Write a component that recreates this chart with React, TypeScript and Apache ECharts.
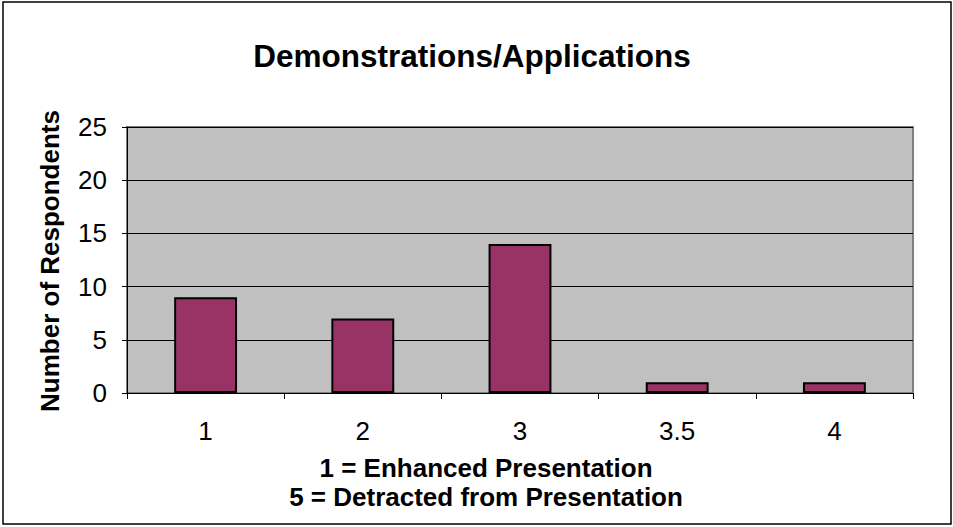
import React, { useEffect, useRef } from "react";
import * as echarts from "echarts";

const categories = ["1", "2", "3", "3.5", "4"];
const respondents = [9, 7, 14, 1, 1];
const yTicks = [0, 5, 10, 15, 20, 25];
const titleText = "Demonstrations/Applications";
const yAxisTitle = "Number of Respondents";
const xAxisTitleLines = ["1 = Enhanced Presentation", "5 = Detracted from Presentation"];

export default function App() {
  const ref = useRef<HTMLDivElement>(null);
  useEffect(() => {
    if (!ref.current) return;
    const chart = echarts.init(ref.current, undefined, { renderer: "svg" });
    const font = "'Liberation Sans', Arial, sans-serif";
    chart.setOption({
      animation: false,
      backgroundColor: "#ffffff",
      textStyle: { fontFamily: font },
      title: {
        text: titleText,
        left: 467,
        top: 35,
        textAlign: "center",
        textStyle: { fontFamily: font, fontSize: 31.5, fontWeight: "bold", color: "#000" },
      },
      grid: { left: 127, top: 127, width: 786, height: 266, show: true, backgroundColor: "#c0c0c0", borderColor: "#808080", borderWidth: 2 },
      xAxis: {
        type: "category",
        data: categories,
        axisLine: { show: true, lineStyle: { color: "#000", width: 1 } },
        axisTick: { show: true, length: 6, alignWithLabel: false, lineStyle: { color: "#000" } },
        axisLabel: { color: "#000", fontSize: 26, margin: 25, fontFamily: font },
        splitLine: { show: false },
      },
      yAxis: {
        type: "value",
        min: 0,
        max: yTicks[yTicks.length - 1],
        interval: 5,
        axisLine: { show: true, lineStyle: { color: "#000", width: 1 } },
        axisTick: { show: true, length: 5, lineStyle: { color: "#000" } },
        axisLabel: { color: "#000", fontSize: 26, margin: 20, fontFamily: font },
        splitLine: { show: true, lineStyle: { color: "#000", width: 1 } },
      },
      series: [
        {
          type: "bar",
          data: respondents,
          barWidth: "40%",
          itemStyle: { color: "#993366", borderColor: "#000", borderWidth: 2 },
        },
      ],
      graphic: [
        {
          type: "rect",
          shape: { x: 3, y: 2, width: 948, height: 522 },
          style: { fill: "none", stroke: "#000", lineWidth: 1.5 },
          silent: true,
          z: 100,
        },
        {
          type: "text",
          x: 50,
          y: 261,
          rotation: Math.PI / 2,
          style: {
            text: yAxisTitle,
            fontFamily: font,
            fontSize: 26,
            fontWeight: "bold",
            fill: "#000",
            align: "center",
            verticalAlign: "middle",
          },
        },
        {
          type: "text",
          x: 486,
          y: 468,
          style: {
            text: xAxisTitleLines[0],
            fontFamily: font,
            fontSize: 26,
            fontWeight: "bold",
            fill: "#000",
            align: "center",
            verticalAlign: "middle",
          },
        },
        {
          type: "text",
          x: 486,
          y: 497,
          style: {
            text: xAxisTitleLines[1],
            fontFamily: font,
            fontSize: 26,
            fontWeight: "bold",
            fill: "#000",
            align: "center",
            verticalAlign: "middle",
          },
        },
      ],
    });
    return () => chart.dispose();
  }, []);
  return (
    <div
      ref={ref}
      style={{ position: "fixed", left: 0, top: 0, width: 953, height: 527 }}
    />
  );
}
